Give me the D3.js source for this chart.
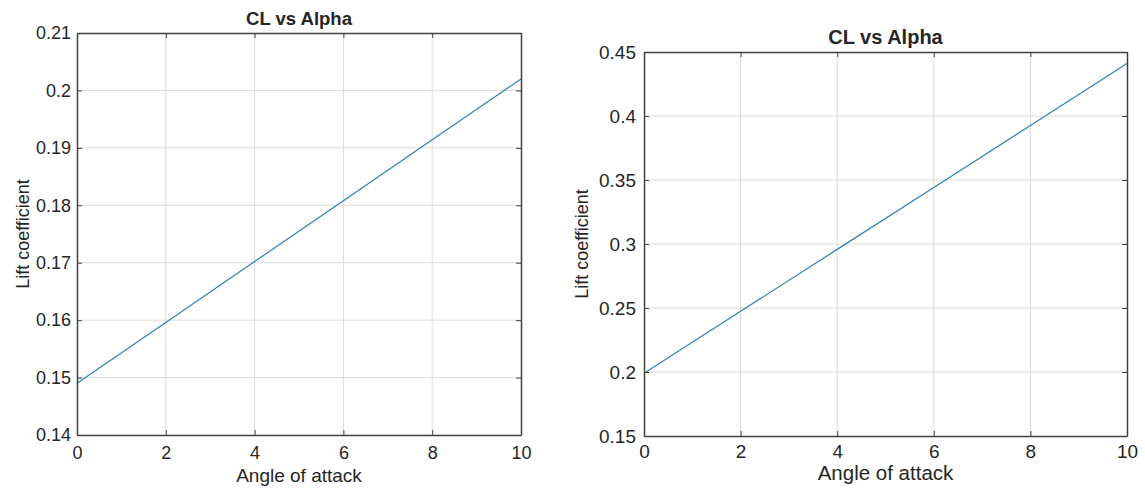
<!DOCTYPE html>
<html lang="en">
<head>
    <meta charset="UTF-8">
    <script src="https://d3js.org/d3.v7.min.js"></script>
    <style>
        body { margin: 0; background: #fff; }
        text { font-family: "Liberation Sans", Arial, sans-serif; fill: #262626; }
    </style>
    <title>CL vs Alpha</title>
</head>
<body>
<div id="chart"></div>
<script>
    const width = 1145;
    const height = 488;

    // Data
    const alpha = [0, 2, 4, 6, 8, 10];
    const clLeft = [0.149, 0.1596, 0.1702, 0.1808, 0.1914, 0.202];
    const clRight = [0.199, 0.2474, 0.2958, 0.3442, 0.3926, 0.441];

    const xTicks = [0, 2, 4, 6, 8, 10];
    const yTicksLeft = [0.14, 0.15, 0.16, 0.17, 0.18, 0.19, 0.2, 0.21];
    const yTicksRight = [0.15, 0.2, 0.25, 0.3, 0.35, 0.4, 0.45];

    const svg = d3.select("#chart").append("svg")
        .attr("width", width)
        .attr("height", height);

    function drawPanel(box, values, yDomain, yTicks, st) {
        const g = svg.append("g");
        const x = d3.scaleLinear().domain([0, 10]).range([box.left, box.right]);
        const y = d3.scaleLinear().domain(yDomain).range([box.bottom, box.top]);

        // grid
        g.selectAll(".vgrid").data(xTicks.slice(1, -1)).enter().append("line")
            .attr("x1", d => x(d)).attr("x2", d => x(d))
            .attr("y1", box.top).attr("y2", box.bottom)
            .attr("stroke", "#dcdcdc").attr("stroke-width", 1);
        g.selectAll(".hgrid").data(yTicks.slice(1, -1)).enter().append("line")
            .attr("y1", d => y(d)).attr("y2", d => y(d))
            .attr("x1", box.left).attr("x2", box.right)
            .attr("stroke", "#dcdcdc").attr("stroke-width", 1);

        // line
        const line = d3.line().x((d, i) => x(alpha[i])).y(d => y(d));
        g.append("path").datum(values)
            .attr("d", line)
            .attr("fill", "none")
            .attr("stroke", "#2b80b9")
            .attr("stroke-width", 1.2);

        // axes, ticks inward like matlab
        const bottomAxis = d3.axisBottom(x).tickValues(xTicks).tickSizeInner(-5).tickSizeOuter(0)
            .tickPadding(st.xPad).tickFormat(d3.format("d"));
        const leftAxis = d3.axisLeft(y).tickValues(yTicks).tickSizeInner(-5).tickSizeOuter(0)
            .tickPadding(st.yPad).tickFormat(d => +d.toFixed(2));
        const topAxis = d3.axisTop(x).tickValues(xTicks).tickSizeInner(-5).tickSizeOuter(0).tickFormat("");
        const rightAxis = d3.axisRight(y).tickValues(yTicks).tickSizeInner(-5).tickSizeOuter(0).tickFormat("");

        const ax = [
            g.append("g").attr("transform", `translate(0,${box.bottom})`).call(bottomAxis),
            g.append("g").attr("transform", `translate(${box.left},0)`).call(leftAxis),
            g.append("g").attr("transform", `translate(0,${box.top})`).call(topAxis),
            g.append("g").attr("transform", `translate(${box.right},0)`).call(rightAxis)
        ];
        ax.forEach(a => {
            a.selectAll("path").attr("stroke", "#404040").attr("stroke-width", 1.5);
            a.selectAll("line").attr("stroke", "#404040");
            a.selectAll("text").style("font-size", st.tick + "px").attr("fill", "#262626");
        });

        // title and labels
        svg.append("text")
            .attr("x", (box.left + box.right) / 2)
            .attr("y", box.top - 8)
            .attr("text-anchor", "middle")
            .style("font-size", st.title + "px")
            .style("font-weight", "bold")
            .text("CL vs Alpha");
        svg.append("text")
            .attr("x", (box.left + box.right) / 2)
            .attr("y", st.xLabelY)
            .attr("text-anchor", "middle")
            .style("font-size", st.label + "px")
            .text("Angle of attack");
        svg.append("text")
            .attr("transform", `translate(${st.yLabelX},${(box.top + box.bottom) / 2}) rotate(-90)`)
            .attr("text-anchor", "middle")
            .style("font-size", "18px")
            .text("Lift coefficient");
    }

    drawPanel({ left: 77, right: 521, top: 33, bottom: 435 }, clLeft, [0.14, 0.21], yTicksLeft,
        { tick: 18, label: 19, title: 18.5, xPad: 11, yPad: 6, xLabelY: 482, yLabelX: 29 });
    drawPanel({ left: 644, right: 1127, top: 52, bottom: 436 }, clRight, [0.15, 0.45], yTicksRight,
        { tick: 19, label: 20.5, title: 20, xPad: 9, yPad: 8, xLabelY: 480, yLabelX: 588 });
</script>
</body>
</html>
